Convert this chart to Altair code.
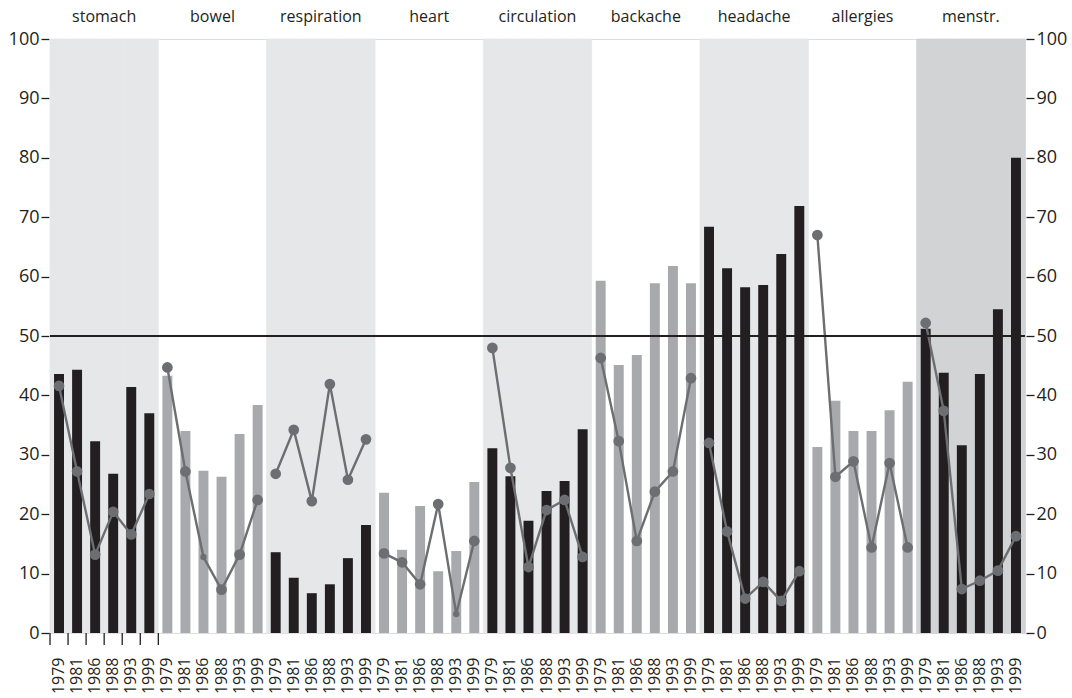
import altair as alt
import pandas as pd

groups = ["stomach", "bowel", "respiration", "heart", "circulation",
          "backache", "headache", "allergies", "menstr."]
years = ["1979", "1981", "1986", "1988", "1993", "1999"]

bar_values = {
    "stomach":     [43.6, 44.3, 32.3, 26.8, 41.4, 37.0],
    "bowel":       [43.3, 34.0, 27.3, 26.3, 33.5, 38.4],
    "respiration": [13.6, 9.3, 6.7, 8.2, 12.6, 18.2],
    "heart":       [23.6, 14.0, 21.4, 10.4, 13.8, 25.4],
    "circulation": [31.1, 26.4, 18.9, 23.9, 25.6, 34.3],
    "backache":    [59.3, 45.1, 46.8, 58.9, 61.8, 58.9],
    "headache":    [68.4, 61.4, 58.2, 58.6, 63.8, 71.9],
    "allergies":   [31.3, 39.1, 34.0, 34.0, 37.5, 42.3],
    "menstr.":     [51.2, 43.8, 31.6, 43.6, 54.5, 80.0],
}

line_values = {
    "stomach":     [41.6, 27.2, 13.2, 20.4, 16.6, 23.4],
    "bowel":       [44.7, 27.2, 12.8, 7.3, 13.2, 22.4],
    "respiration": [26.8, 34.2, 22.2, 41.9, 25.8, 32.6],
    "heart":       [13.4, 11.9, 8.2, 21.7, 3.2, 15.5],
    "circulation": [48.0, 27.8, 11.1, 20.7, 22.4, 12.8],
    "backache":    [46.3, 32.3, 15.5, 23.8, 27.2, 42.9],
    "headache":    [32.0, 17.1, 5.8, 8.6, 5.4, 10.4],
    "allergies":   [67.0, 26.3, 28.9, 14.4, 28.6, 14.4],
    "menstr.":     [52.2, 37.4, 7.4, 8.8, 10.5, 16.3],
}

small_points = [("bowel", "1986"), ("heart", "1993")]
bar_tone = ["dark", "light", "dark", "light", "dark", "light", "dark", "light", "dark"]
band_tone = ["light", "none", "light", "none", "light", "none", "light", "none", "dark"]

rows = []
for gi, g in enumerate(groups):
    for yi, yr in enumerate(years):
        rows.append(dict(
            group=g, year=yr, key=f"{g}|{yr}",
            bar=bar_values[g][yi], line=line_values[g][yi],
            tone=bar_tone[gi], band=band_tone[gi],
            marker="small" if (g, yr) in small_points else "big",
        ))
df = pd.DataFrame(rows)
keys = list(df["key"])

band_df = df[df["band"] != "none"]
label_df = df[df["year"] == "1986"]
tick_df = df[(df["group"] == "stomach") | (df["key"] == "bowel|1979")]

INK = "#231f20"
FONT = "Open Sans"

# ---------- layer A: background bands, group labels, small ticks ----------
scaleA = alt.Scale(domain=keys, paddingInner=0, paddingOuter=0)
yscale = alt.Scale(domain=[0, 100], nice=False)

bands = alt.Chart(band_df).mark_bar(strokeWidth=0.8).encode(
    x=alt.X("key:N", scale=scaleA, axis=None),
    y=alt.YDatum(100, scale=yscale,
                 axis=alt.Axis(orient="left", values=list(range(0, 101, 10)),
                               title=None, domain=False, grid=False,
                               tickSize=8, tickWidth=1.3, tickColor=INK,
                               labelPadding=2, labelFontSize=18, labelColor=INK,
                               labelFont=FONT, offset=1)),
    y2=alt.Y2Datum(0),
    color=alt.Color("band:N", scale=alt.Scale(domain=["light", "dark"],
                                              range=["#e6e7e8", "#d1d3d4"]), legend=None),
    stroke=alt.Stroke("band:N", scale=alt.Scale(domain=["light", "dark"],
                                                range=["#e6e7e8", "#d1d3d4"]), legend=None),
)

group_labels = alt.Chart(label_df).mark_text(
    fontSize=16, font=FONT, color=INK, baseline="alphabetic", align="center"
).encode(
    x=alt.X("key:N", scale=scaleA, axis=None, bandPosition=1),
    y=alt.YDatum(102.9),
    text="group:N",
)

small_ticks = alt.Chart(tick_df).mark_rule(color=INK, strokeWidth=1.3).encode(
    x=alt.X("key:N", scale=scaleA, axis=None, bandPosition=0),
    y=alt.YDatum(0),
    y2=alt.Y2Datum(-2),
)

layerA = alt.layer(bands, small_ticks, group_labels)

# ---------- layer B: bars, line, points, 50-rule ----------
scaleB = alt.Scale(domain=keys, paddingInner=0.45, paddingOuter=0.225)
xB = alt.X("key:N", scale=scaleB, title=None,
           axis=alt.Axis(labelExpr="split(datum.label, '|')[1]", labelAngle=270,
                         ticks=False, tickSize=0, domain=False, labelPadding=24,
                         labelFontSize=16, labelColor=INK, labelFont=FONT, title=None))

bars = alt.Chart(df).mark_bar().encode(
    x=xB,
    y=alt.Y("bar:Q", scale=yscale, title=None,
            axis=alt.Axis(orient="right", values=list(range(0, 101, 10)),
                          title=None, domain=False, grid=False,
                          tickSize=8, tickWidth=1.3, tickColor=INK,
                          labelPadding=2, labelFontSize=18, labelColor=INK,
                          labelFont=FONT, offset=1)),
    color=alt.Color("tone:N", scale=alt.Scale(domain=["dark", "light"],
                                              range=[INK, "#a7a9ac"]), legend=None),
)

line = alt.Chart(df).mark_line(color="#6d6e71", strokeWidth=2.4).encode(
    x=xB,
    y=alt.Y("line:Q", title=None),
    detail="group:N",
)

rule50 = alt.Chart(df).mark_rule(color=INK, strokeWidth=2).encode(
    y=alt.YDatum(50),
)

points = alt.Chart(df).mark_circle(color="#6d6e71", opacity=1).encode(
    x=xB,
    y=alt.Y("line:Q", title=None),
    size=alt.Size("marker:N", scale=alt.Scale(domain=["big", "small"], range=[115, 40]),
                  legend=None),
)

layerB = alt.layer(bars, line, rule50, points)

chart = alt.layer(layerA, layerB).resolve_scale(
    x="independent", y="independent", color="independent", size="independent"
).properties(
    width=975, height=594,
    padding={"left": 50, "top": 39, "right": 47, "bottom": 65},
    autosize=alt.AutoSizeParams(type="none"),
).configure_view(stroke=None).configure(font=FONT)

chart.save("out.html", embed_options={"renderer": "svg", "actions": False})
